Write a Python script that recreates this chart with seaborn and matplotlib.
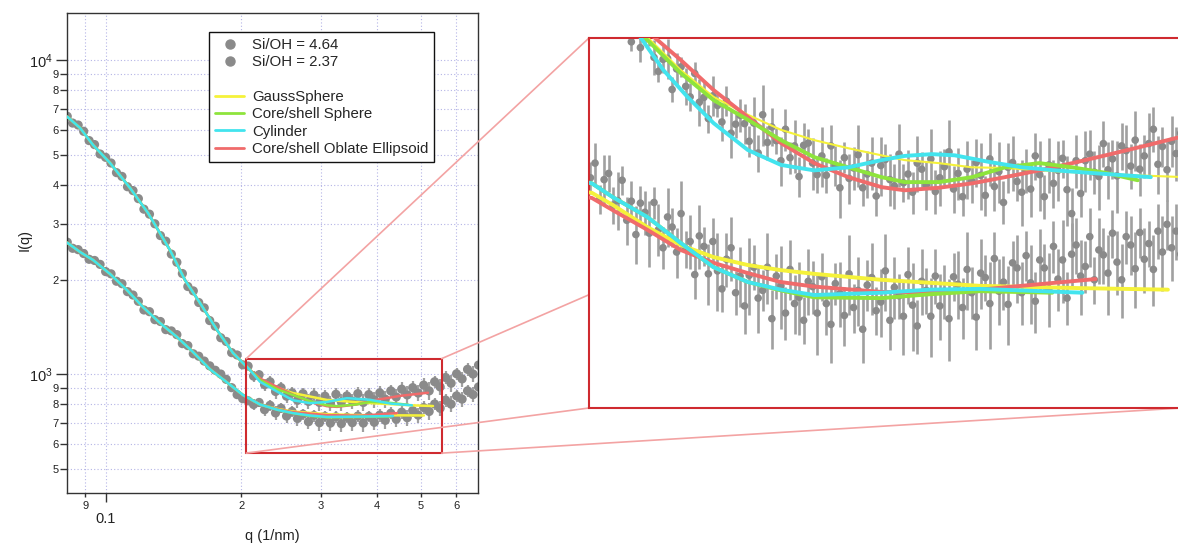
import matplotlib
matplotlib.use('Agg')
import matplotlib.pyplot as plt
import seaborn as sns
from matplotlib.lines import Line2D
from matplotlib.patches import Rectangle, ConnectionPatch
from matplotlib.ticker import FixedLocator, FixedFormatter, NullLocator

sns.set_theme(style='white')
plt.rcParams['font.family'] = ['Liberation Sans', 'DejaVu Sans']
plt.rcParams['mathtext.fontset'] = 'custom'
plt.rcParams['mathtext.rm'] = 'Liberation Sans'

GRAY = '#8a8a8a'
ERR_GRAY = '#a0a0a0'
YELLOW = '#f5f23a'
GREEN = '#8ee43c'
CYAN = '#42e4ee'
RED = '#f06b6b'
BOX_RED = '#cf2a2f'
LINK_RED = '#f3a3a3'
GRID = '#b4b4e6'

# ---- main panel: measured curves ----
q_main = [0.082, 0.0843, 0.0867, 0.0892, 0.0917, 0.0943, 0.097, 0.0998, 0.1026, 0.1055,
          0.1085, 0.1116, 0.1148, 0.118, 0.1214, 0.1249, 0.1284, 0.1321, 0.1358, 0.1397,
          0.1437, 0.1478, 0.152, 0.1563, 0.1607, 0.1653, 0.17, 0.1749, 0.1799, 0.185,
          0.1902, 0.1956, 0.2012, 0.2069, 0.2128, 0.2189, 0.2251, 0.2315, 0.2381, 0.2449,
          0.2519, 0.2591, 0.2664, 0.274, 0.2818, 0.2898, 0.2981, 0.3066, 0.3153, 0.3243,
          0.3335, 0.343, 0.3527, 0.3628, 0.3731, 0.3837, 0.3947, 0.4059, 0.4175, 0.4294,
          0.4416, 0.4541, 0.4671, 0.4804, 0.4941, 0.5081, 0.5226, 0.5375, 0.5528, 0.5685,
          0.5847, 0.6014, 0.6185, 0.6361, 0.6542, 0.6728]
hi_main = [6620, 6300, 6210, 5930, 5540, 5380, 5020, 4900, 4700, 4380,
           4260, 3950, 3840, 3620, 3350, 3230, 3010, 2760, 2650, 2410,
           2270, 2090, 1900, 1840, 1690, 1625, 1480, 1420, 1305, 1270,
           1170, 1150, 1070, 1060, 985, 995, 925, 945, 880, 905,
           850, 872, 825, 866, 818, 858, 812, 850, 808, 862,
           815, 852, 820, 866, 812, 860, 828, 871, 832, 884,
           845, 895, 858, 905, 870, 922, 884, 945, 910, 975,
           935, 1002, 965, 1035, 1000, 1068]
hi_err = [130, 120, 125, 110, 115, 100, 105, 95, 90, 90,
          85, 80, 80, 75, 70, 68, 65, 60, 58, 55,
          52, 50, 48, 45, 44, 42, 40, 38, 36, 35,
          34, 33, 32, 32, 40, 35, 42, 38, 45, 36,
          44, 40, 48, 37, 45, 42, 50, 38, 46, 41,
          52, 39, 47, 43, 50, 40, 48, 44, 53, 41,
          49, 45, 55, 42, 50, 46, 56, 43, 52, 47,
          57, 44, 53, 48, 58, 45]
lo_main = [2630, 2515, 2490, 2420, 2320, 2300, 2235, 2120, 2085, 1975,
           1940, 1830, 1785, 1705, 1600, 1580, 1490, 1470, 1385, 1372,
           1335, 1250, 1232, 1160, 1140, 1100, 1062, 1028, 1000, 962,
           905, 860, 835, 822, 800, 812, 770, 795, 752, 778,
           735, 760, 722, 745, 705, 738, 700, 733, 698, 731,
           695, 728, 700, 735, 698, 733, 702, 740, 712, 750,
           718, 756, 726, 765, 740, 782, 760, 803, 778, 826,
           802, 852, 832, 884, 860, 910]
lo_err = [50, 48, 47, 46, 45, 44, 42, 41, 40, 39,
          37, 36, 35, 34, 32, 31, 30, 29, 28, 27,
          26, 25, 24, 24, 23, 22, 22, 21, 21, 20,
          20, 19, 19, 19, 32, 28, 35, 30, 38, 29,
          36, 31, 40, 30, 37, 33, 41, 30, 38, 32,
          42, 31, 39, 34, 43, 32, 40, 35, 44, 33,
          41, 36, 45, 34, 42, 37, 46, 35, 43, 38,
          47, 36, 44, 39, 48, 37]

# ---- main panel: model fits (shared low-q part + model tails) ----
fit_hi_q0 = [0.082, 0.0876, 0.0936, 0.1021, 0.1131, 0.124, 0.1387, 0.1498, 0.1618, 0.1765, 0.1915, 0.2089]
fit_hi_i0 = [6600, 6073, 5362, 4699, 3912, 3256, 2483, 1992, 1683, 1381, 1167, 1030]
gauss_hi_q = [0.2199, 0.2399, 0.2603, 0.3098, 0.3861, 0.4786, 0.533]
gauss_hi_i = [965, 905, 870, 827, 808, 795, 791]
core_hi_q = [0.2199, 0.2399, 0.2603, 0.284, 0.3098, 0.3262, 0.36, 0.3861, 0.42, 0.47]
core_hi_i = [958, 895, 858, 820, 795, 790, 800, 815, 812, 798]
cyl_hi_q = [0.2199, 0.2399, 0.2603, 0.284, 0.3098, 0.3431, 0.3861, 0.43, 0.4786]
cyl_hi_i = [945, 880, 825, 808, 815, 838, 828, 805, 795]
obl_hi_q = [0.2199, 0.2399, 0.2603, 0.284, 0.3098, 0.3262, 0.36, 0.40, 0.45, 0.5194]
obl_hi_i = [968, 910, 860, 815, 790, 786, 800, 828, 852, 872]

fit_lo_q0 = [0.082, 0.0876, 0.0936, 0.1021, 0.1113, 0.1208, 0.1318, 0.1438, 0.1561, 0.1703, 0.1858, 0.2015, 0.2199]
fit_lo_i0 = [2620, 2446, 2307, 2083, 1851, 1635, 1454, 1312, 1175, 1035, 940, 858, 800]
gauss_lo_q = [0.2399, 0.2603, 0.3098, 0.3667, 0.5088]
gauss_lo_i = [775, 760, 745, 740, 738]
core_lo_q = [0.2399, 0.2603, 0.284, 0.3098, 0.3667, 0.43]
core_lo_i = [770, 750, 736, 728, 730, 733]
cyl_lo_q = [0.2399, 0.2603, 0.284, 0.3098, 0.3667, 0.4343]
cyl_lo_i = [770, 751, 738, 730, 732, 735]
obl_lo_q = [0.2399, 0.2603, 0.284, 0.3098, 0.37, 0.4432]
obl_lo_i = [773, 756, 748, 740, 737, 751]

# ---- zoom panel: measured curves ----
zoom_q = [0.2055, 0.2071, 0.2087, 0.2103, 0.2119, 0.2135, 0.2152, 0.2168, 0.2185, 0.2202,
          0.2219, 0.2236, 0.2253, 0.2270, 0.2288, 0.2305, 0.2323, 0.2341, 0.2359, 0.2377,
          0.2395, 0.2414, 0.2432, 0.2451, 0.2470, 0.2489, 0.2508, 0.2527, 0.2547, 0.2566,
          0.2586, 0.2606, 0.2626, 0.2646, 0.2666, 0.2687, 0.2708, 0.2728, 0.2749, 0.2771,
          0.2792, 0.2813, 0.2835, 0.2857, 0.2879, 0.2901, 0.2923, 0.2946, 0.2969, 0.2991,
          0.3014, 0.3038, 0.3061, 0.3085, 0.3108, 0.3132, 0.3156, 0.3181, 0.3205, 0.3230,
          0.3255, 0.3280, 0.3305, 0.3330, 0.3356, 0.3382, 0.3408, 0.3434, 0.3461, 0.3487,
          0.3514, 0.3541, 0.3569, 0.3596, 0.3624, 0.3652, 0.3680, 0.3708, 0.3737, 0.3766,
          0.3795, 0.3824, 0.3853, 0.3883, 0.3913, 0.3943, 0.3973, 0.4004, 0.4035, 0.4066,
          0.4097, 0.4129, 0.4161, 0.4193, 0.4225, 0.4258, 0.4290, 0.4323, 0.4357, 0.4390,
          0.4424, 0.4458, 0.4493, 0.4527, 0.4562, 0.4597, 0.4633, 0.4668, 0.4704, 0.4741,
          0.4777, 0.4814, 0.4851, 0.4888, 0.4926, 0.4964, 0.5002, 0.5041, 0.5080, 0.5119,
          0.5158, 0.5198, 0.5238, 0.5278, 0.5319, 0.5360, 0.5401, 0.5443, 0.5485, 0.5527,
          0.5570, 0.5613]
zoom_hi = [1240, 1230, 1222, 1212, 1205, 1195, 1188, 1180, 1170, 1112,
           1141, 1100, 1126, 1129, 1080, 1052, 1076, 1078, 1017, 1057,
           1061, 1023, 1003, 1048, 993, 1002, 963, 1005, 987, 957,
           995, 937, 953, 969, 954, 923, 955, 903, 970, 921,
           948, 924, 890, 944, 895, 915, 864, 916, 920, 886,
           867, 898, 866, 915, 882, 846, 895, 861, 878, 900,
           846, 868, 886, 833, 882, 892, 859, 849, 901, 854,
           868, 839, 886, 876, 850, 893, 840, 862, 880, 905,
           844, 869, 832, 876, 857, 887, 866, 834, 893, 848,
           872, 823, 879, 887, 856, 839, 873, 844, 898, 867,
           832, 883, 853, 874, 894, 843, 806, 890, 837, 890,
           901, 871, 864, 919, 875, 893, 865, 915, 907, 881,
           925, 876, 898, 919, 944, 884, 914, 875, 923, 902,
           937, 918]
zoom_hi_err = [15, 15, 15, 15, 15, 15, 15, 15, 15, 18,
               22, 30, 18, 26, 35, 20, 28, 40, 24, 32,
               19, 36, 27, 22, 44, 30, 25, 38, 21, 33,
               28, 42, 24, 30, 36, 26, 48, 31, 55, 29,
               34, 23, 41, 37, 27, 45, 32, 39, 25, 43,
               30, 50, 28, 36, 33, 46, 26, 40, 35, 52,
               29, 38, 44, 31, 49, 27, 42, 36, 53, 30,
               40, 33, 47, 28, 39, 51, 34, 45, 30, 56,
               37, 42, 29, 48, 35, 40, 54, 31, 44, 38,
               50, 33, 41, 46, 30, 52, 36, 43, 39, 57,
               34, 45, 38, 49, 32, 55, 40, 44, 36, 51,
               42, 35, 53, 39, 47, 33, 58, 41, 45, 37,
               52, 43, 36, 55, 40, 48, 34, 50, 44, 46,
               39, 53]
zoom_lo = [862, 886, 828, 859, 869, 819, 826, 858, 796, 825,
           775, 822, 808, 777, 823, 782, 756, 801, 786, 750,
           806, 754, 765, 719, 773, 758, 720, 765, 724, 700,
           740, 756, 695, 717, 678, 718, 729, 688, 698, 729,
           662, 717, 704, 669, 726, 681, 689, 660, 710, 703,
           669, 716, 681, 655, 707, 694, 666, 720, 676, 698,
           649, 705, 715, 672, 683, 724, 660, 702, 691, 665,
           719, 679, 653, 710, 698, 665, 717, 678, 697, 662,
           716, 706, 676, 726, 695, 664, 721, 715, 681, 741,
           697, 709, 680, 735, 728, 695, 745, 708, 684, 739,
           728, 700, 758, 713, 739, 688, 747, 760, 717, 730,
           772, 712, 753, 746, 721, 777, 736, 712, 772, 760,
           727, 778, 740, 762, 726, 780, 750, 790, 756, 780,
           747, 793]
zoom_lo_err = [26, 34, 22, 40, 30, 28, 45, 24, 36, 31,
               42, 27, 33, 48, 25, 38, 30, 44, 29, 35,
               50, 26, 39, 32, 46, 28, 41, 34, 53, 30,
               37, 45, 29, 40, 35, 52, 31, 43, 27, 48,
               36, 30, 55, 33, 41, 38, 47, 29, 44, 35,
               50, 32, 39, 46, 28, 42, 37, 54, 31, 45,
               40, 34, 48, 30, 43, 52, 36, 41, 29, 47,
               38, 56, 33, 44, 30, 49, 37, 42, 35, 51,
               32, 45, 39, 53, 34, 40, 47, 31, 55, 38,
               43, 36, 50, 30, 46, 41, 35, 52, 39, 44,
               33, 48, 37, 42, 57, 34, 45, 40, 50, 36,
               43, 31, 47, 39, 54, 35, 44, 49, 38, 42,
               51, 36, 45, 33, 48, 40, 53, 37, 46, 41,
               50, 39]

# ---- zoom panel: model fits ----
z_gauss_hi_q = [0.2198, 0.2273, 0.2393, 0.2530, 0.2681, 0.2835, 0.2999, 0.3177, 0.3360, 0.3494, 0.3701, 0.3915, 0.4140, 0.4386, 0.4639, 0.4906, 0.560]
z_gauss_hi_i = [1158, 1116, 1055, 1003, 970, 943, 925, 911, 899, 891, 886, 879, 878, 874, 871, 868, 863]
z_core_hi_q = [0.2198, 0.2262, 0.2393, 0.2530, 0.2681, 0.2835, 0.2999, 0.3177, 0.3360, 0.3494, 0.3701, 0.3915, 0.4140, 0.4386, 0.4639, 0.4906, 0.518]
z_core_hi_i = [1152, 1116, 1049, 997, 961, 925, 896, 879, 863, 855, 855, 863, 879, 886, 879, 870, 858]
z_cyl_hi_q = [0.2198, 0.2243, 0.2324, 0.2421, 0.2530, 0.2681, 0.2835, 0.2999, 0.3177, 0.3360, 0.3494, 0.3658, 0.3803, 0.4029, 0.4261, 0.4507, 0.4775, 0.5296]
z_cyl_hi_i = [1150, 1116, 1055, 1003, 955, 908, 883, 874, 879, 891, 898, 901, 899, 888, 879, 874, 870, 863]
z_obl_hi_q = [0.2198, 0.2301, 0.2393, 0.2530, 0.2681, 0.2835, 0.2999, 0.3177, 0.3360, 0.3494, 0.3701, 0.3915, 0.4140, 0.4386, 0.4639, 0.4906, 0.5198, 0.560]
z_obl_hi_i = [1163, 1116, 1075, 1016, 966, 920, 886, 863, 847, 842, 846, 853, 863, 874, 886, 899, 913, 932]

z_gauss_lo_q = [0.203, 0.2060, 0.2135, 0.2262, 0.2393, 0.2530, 0.2681, 0.2835, 0.2999, 0.3360, 0.3968, 0.4702, 0.5451]
z_gauss_lo_i = [840, 838, 819, 786, 760, 743, 732, 725, 720, 712, 704, 701, 699]
z_core_lo_q = [0.203, 0.2060, 0.2135, 0.2262, 0.2393, 0.2530, 0.2681, 0.2835, 0.2999, 0.3360, 0.3645, 0.3968, 0.4484]
z_core_lo_i = [856, 853, 831, 801, 763, 729, 709, 698, 689, 688, 693, 697, 695]
z_cyl_lo_q = [0.203, 0.2060, 0.2135, 0.2262, 0.2393, 0.2530, 0.2681, 0.2835, 0.2999, 0.3360, 0.3645, 0.3968, 0.4718]
z_cyl_lo_i = [856, 853, 831, 801, 763, 729, 709, 699, 692, 695, 699, 700, 695]
z_obl_lo_q = [0.203, 0.2060, 0.2135, 0.2262, 0.2393, 0.2530, 0.2681, 0.2835, 0.2999, 0.3360, 0.3752, 0.4197, 0.4824]
z_obl_lo_i = [832, 830, 811, 782, 753, 735, 721, 709, 703, 696, 695, 703, 713]

ZOOM_X = (0.205, 0.5573)
ZOOM_Y = (560, 1120)

models = ['GaussSphere', 'Core/shell Sphere', 'Cylinder', 'Core/shell Oblate Ellipsoid']
model_colors = {'GaussSphere': YELLOW, 'Core/shell Sphere': GREEN,
                'Cylinder': CYAN, 'Core/shell Oblate Ellipsoid': RED}
draw_order = ['GaussSphere', 'Core/shell Oblate Ellipsoid', 'Core/shell Sphere', 'Cylinder']

main_fits = {
    'GaussSphere': [(fit_hi_q0 + gauss_hi_q, fit_hi_i0 + gauss_hi_i), (fit_lo_q0 + gauss_lo_q, fit_lo_i0 + gauss_lo_i)],
    'Core/shell Sphere': [(fit_hi_q0 + core_hi_q, fit_hi_i0 + core_hi_i), (fit_lo_q0 + core_lo_q, fit_lo_i0 + core_lo_i)],
    'Cylinder': [(fit_hi_q0 + cyl_hi_q, fit_hi_i0 + cyl_hi_i), (fit_lo_q0 + cyl_lo_q, fit_lo_i0 + cyl_lo_i)],
    'Core/shell Oblate Ellipsoid': [(fit_hi_q0 + obl_hi_q, fit_hi_i0 + obl_hi_i), (fit_lo_q0 + obl_lo_q, fit_lo_i0 + obl_lo_i)],
}
zoom_fits = {
    'GaussSphere': [(z_gauss_hi_q, z_gauss_hi_i), (z_gauss_lo_q, z_gauss_lo_i)],
    'Core/shell Sphere': [(z_core_hi_q, z_core_hi_i), (z_core_lo_q, z_core_lo_i)],
    'Cylinder': [(z_cyl_hi_q, z_cyl_hi_i), (z_cyl_lo_q, z_cyl_lo_i)],
    'Core/shell Oblate Ellipsoid': [(z_obl_hi_q, z_obl_hi_i), (z_obl_lo_q, z_obl_lo_i)],
}


def draw_data(ax, q, vals, err, size, elw):
    ax.errorbar(q, vals, yerr=err, fmt='none', ecolor=ERR_GRAY, elinewidth=elw, zorder=1)
    sns.scatterplot(x=q, y=vals, ax=ax, color=GRAY, s=size, edgecolor='none',
                    linewidth=0, zorder=2, legend=False)


def draw_fits(ax, fits, lw, thin_first=None):
    for name in draw_order:
        for j, (fq, fi) in enumerate(fits[name]):
            w = lw
            if thin_first is not None and name == 'GaussSphere' and j == 0:
                w = thin_first
            sns.lineplot(x=fq, y=fi, ax=ax, color=model_colors[name], lw=w, sort=False,
                         estimator=None, legend=False, zorder=3)


fig = plt.figure(figsize=(11.78, 5.48), dpi=100)
ax = fig.add_axes([67 / 1178, 55 / 548, 411 / 1178, 480 / 548])
ax.set_xscale('log')
ax.set_yscale('log')

draw_data(ax, q_main, hi_main, hi_err, 44, 1.6)
draw_data(ax, q_main, lo_main, lo_err, 44, 1.6)
draw_fits(ax, main_fits, 1.8)

ax.set_xlim(0.0819, 0.671)
ax.set_ylim(418, 14120)

ax.xaxis.set_major_locator(FixedLocator([0.1]))
ax.xaxis.set_major_formatter(FixedFormatter(['0.1']))
ax.xaxis.set_minor_locator(FixedLocator([0.09, 0.2, 0.3, 0.4, 0.5, 0.6]))
ax.xaxis.set_minor_formatter(FixedFormatter(['9', '2', '3', '4', '5', '6']))
ax.yaxis.set_major_locator(FixedLocator([1000, 10000]))
ax.yaxis.set_major_formatter(FixedFormatter([r'$\mathregular{10^{3}}$', r'$\mathregular{10^{4}}$']))
y_minor = [500, 600, 700, 800, 900, 2000, 3000, 4000, 5000, 6000, 7000, 8000, 9000]
ax.yaxis.set_minor_locator(FixedLocator(y_minor))
ax.yaxis.set_minor_formatter(FixedFormatter(['5', '6', '7', '8', '9', '2', '3', '4', '5', '6', '7', '8', '9']))

ax.tick_params(axis='both', which='both', direction='out', color='#333333', width=1.0,
               labelcolor='#222222', left=True, bottom=True)
ax.tick_params(axis='y', which='major', length=8, pad=2, labelsize=10.5)
ax.tick_params(axis='y', which='minor', length=5, pad=1, labelsize=8)
ax.tick_params(axis='x', which='major', length=6.5, pad=7, labelsize=10.5)
ax.tick_params(axis='x', which='minor', length=3, pad=3, labelsize=8)
ax.grid(which='both', ls=(0, (1, 2)), color=GRID, lw=0.8)
for sp in ax.spines.values():
    sp.set_color('#333333')
    sp.set_linewidth(1.0)

ax.set_ylabel('I(q)', fontsize=10.5, color='#222222')
ax.set_xlabel('q (1/nm)', fontsize=10.5, color='#222222')
ax.yaxis.set_label_coords(-0.085, 0.527)
ax.xaxis.set_label_coords(0.5, -0.075)

handles = [Line2D([], [], marker='o', ls='none', color=GRAY, ms=6.5),
           Line2D([], [], marker='o', ls='none', color=GRAY, ms=6.5),
           Line2D([], [], ls='none')]
handles += [Line2D([], [], color=model_colors[m], lw=2) for m in models]
labels = ['Si/OH = 4.64', 'Si/OH = 2.37', ''] + models
leg = ax.legend(handles, labels, loc='upper left', bbox_to_anchor=(0.3455, 0.9604),
                borderaxespad=0, fontsize=10.8, frameon=True, fancybox=False, framealpha=1,
                edgecolor='#111111', handlelength=1.95, handletextpad=0.5,
                labelspacing=0.22, borderpad=0.4)
leg.get_frame().set_linewidth(1.0)

ax.add_patch(Rectangle((ZOOM_X[0], ZOOM_Y[0]), ZOOM_X[1] - ZOOM_X[0], ZOOM_Y[1] - ZOOM_Y[0],
                       fill=False, ec=BOX_RED, lw=1.5, zorder=5))

# zoom panel
axin = fig.add_axes([589 / 1178, 140 / 548, 592 / 1178, 370 / 548])
axin.set_zorder(3)
axin.set_xscale('log')
axin.set_yscale('log')
draw_data(axin, zoom_q, zoom_hi, zoom_hi_err, 30, 1.9)
draw_data(axin, zoom_q, zoom_lo, zoom_lo_err, 30, 1.9)
draw_fits(axin, zoom_fits, 2.8, thin_first=1.5)
axin.set_xlim(*ZOOM_X)
axin.set_ylim(*ZOOM_Y)
for a in (axin.xaxis, axin.yaxis):
    a.set_major_locator(NullLocator())
    a.set_minor_locator(NullLocator())
axin.set_xlabel('')
axin.set_ylabel('')
axin.set_facecolor('white')
for sp in axin.spines.values():
    sp.set_color(BOX_RED)
    sp.set_linewidth(1.5)

corners = [((ZOOM_X[0], ZOOM_Y[1]), (0, 1)), ((ZOOM_X[1], ZOOM_Y[1]), (1, 1)),
           ((ZOOM_X[0], ZOOM_Y[0]), (0, 0)), ((ZOOM_X[1], ZOOM_Y[0]), (1, 0))]
for pa, pb in corners:
    con = ConnectionPatch(xyA=pa, coordsA=ax.transData, xyB=pb, coordsB=axin.transAxes,
                          color=LINK_RED, lw=1.2, zorder=2)
    fig.add_artist(con)

fig.savefig('out.png', dpi=100)
